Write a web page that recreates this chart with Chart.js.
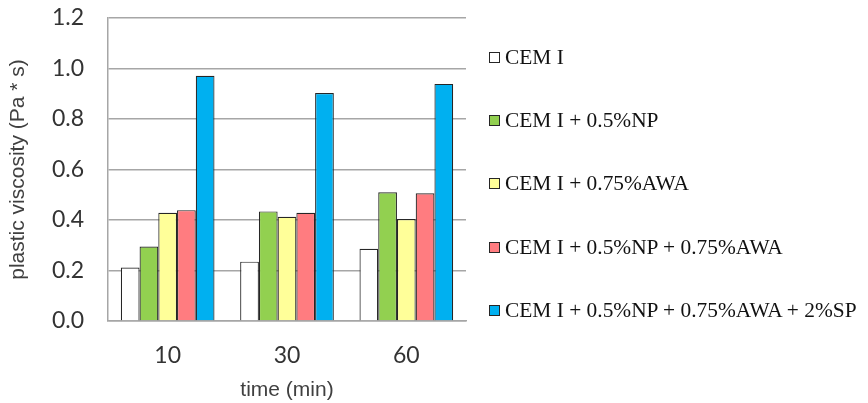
<!DOCTYPE html>
<html>
<head>
<meta charset="utf-8">
<script src="https://cdn.jsdelivr.net/npm/chart.js@4.4.0/dist/chart.umd.min.js"></script>
<style>
  html, body { margin: 0; padding: 0; background: #fff; }
  #wrap { position: relative; width: 868px; height: 403px; }
  #legend { position: absolute; left: 489px; top: 0; font-family: "Liberation Serif", "Times New Roman", serif; font-size: 21.4px; color: #111; }
  #legend .item { position: absolute; left: 0; white-space: nowrap; display: flex; align-items: center; height: 24px; }
  #legend .box { width: 9px; height: 9px; border: 1px solid #262626; margin-right: 5px; flex: none; }
</style>
</head>
<body>
<div id="wrap">
  <canvas id="chart" width="868" height="403"></canvas>
  <div id="legend"></div>
</div>
<script>
  // time points (min)
  const times = ['10', '30', '60'];

  const seriesNames = [
    'CEM I',
    'CEM I + 0.5%NP',
    'CEM I + 0.75%AWA',
    'CEM I + 0.5%NP + 0.75%AWA',
    'CEM I + 0.5%NP + 0.75%AWA + 2%SP'
  ];

  // plastic viscosity (Pa * s)
  const cemI        = [0.212, 0.235, 0.286];
  const cemNP       = [0.295, 0.434, 0.510];
  const cemAWA      = [0.429, 0.413, 0.404];
  const cemNPAWA    = [0.439, 0.429, 0.506];
  const cemNPAWASP  = [0.971, 0.903, 0.939];

  const seriesValues = [cemI, cemNP, cemAWA, cemNPAWA, cemNPAWASP];
  const seriesColors = ['#ffffff', '#92d050', '#ffff99', '#ff7c80', '#00b0f0'];

  const datasets = seriesNames.map((name, i) => ({
    label: name,
    data: seriesValues[i],
    backgroundColor: seriesColors[i],
    borderColor: '#262626',
    borderWidth: 1.2,
    borderSkipped: 'bottom',
    barPercentage: 1,
    categoryPercentage: 0.785
  }));

  const ctx = document.getElementById('chart').getContext('2d');
  const chart = new Chart(ctx, {
    type: 'bar',
    data: { labels: times, datasets: datasets },
    options: {
      responsive: false,
      animation: false,
      layout: { padding: { left: 0, top: 18, right: 402, bottom: 0 } },
      plugins: {
        legend: { display: false },
        tooltip: { enabled: false }
      },
      scales: {
        x: {
          grid: { display: false },
          border: { display: true, color: '#a6a6a6', width: 1.5 },
          ticks: { padding: 13, color: '#333', font: { family: 'Lato', size: 23 } },
          title: {
            display: true, text: 'time (min)', color: '#404040',
            font: { family: 'Liberation Sans', size: 21 },
            padding: { top: 0, bottom: 0 }
          },
          afterFit: s => { s.height = 82; }
        },
        y: {
          min: 0, max: 1.2,
          grid: { color: '#a6a6a6', lineWidth: 1.5, drawTicks: false },
          border: { display: true, color: '#a6a6a6', width: 1.5 },
          ticks: {
            stepSize: 0.2, padding: 24, color: '#333',
            font: { family: 'Lato', size: 23 },
            callback: v => v.toFixed(1)
          },
          title: {
            display: true, text: 'plastic viscosity (Pa * s)', color: '#404040',
            font: { family: 'Liberation Sans', size: 21 },
            padding: { top: 6, bottom: 0 }
          },
          afterFit: s => {
            s.width = 108;
            s.paddingTop = 0;
            s.paddingBottom = 0;
          }
        }
      }
    }
  });

  // legend built from the datasets
  const legend = document.getElementById('legend');
  const rowY = [57, 120, 183, 247, 310];
  chart.data.datasets.forEach((ds, i) => {
    const item = document.createElement('div');
    item.className = 'item';
    item.style.top = (rowY[i] - 12) + 'px';
    const box = document.createElement('span');
    box.className = 'box';
    box.style.background = ds.backgroundColor;
    const txt = document.createElement('span');
    txt.textContent = ds.label;
    item.appendChild(box);
    item.appendChild(txt);
    legend.appendChild(item);
  });
</script>
</body>
</html>
